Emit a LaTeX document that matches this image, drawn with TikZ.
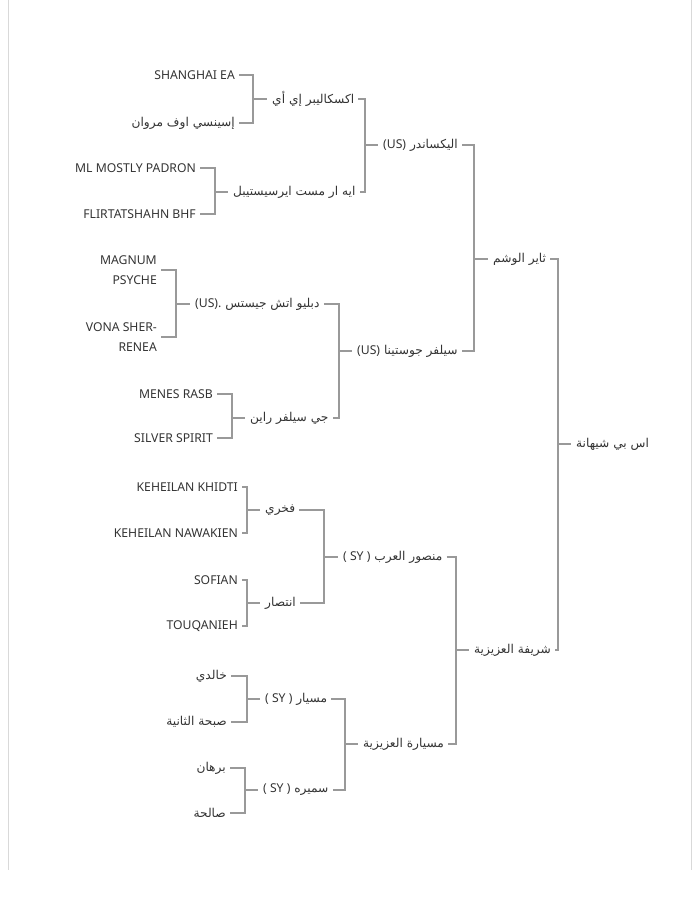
\documentclass[tikz,border=0pt]{standalone}
\usepackage{fontspec}
\setmainfont{Noto Sans}
\newfontfamily\arabicfont[Script=Arabic]{DejaVu Sans}
\TeXXeTstate=1
\newcommand{\artx}[1]{{\arabicfont\beginR #1\endR}}
\newcommand{\lat}[1]{\beginL{\normalfont #1}\endL}
\begin{document}
\begin{tikzpicture}[x=1pt,y=-1pt,
  lbl/.style={inner sep=0pt,text=black!80,font=\fontsize{12.2}{14}\selectfont},
  lf/.style={lbl,anchor=east},
  md/.style={lbl,anchor=west},
  ln/.style={draw=black!40,line width=1.3pt}]
\useasboundingbox (0,0) rectangle (700,908);
\draw[black!15,line width=0.8pt] (8,0) -- (8,870) (691,0) -- (691,870);
% ---------- leaves ----------
\node[lf] (l1) at (235,75) {SHANGHAI EA};
\node[lf] (l2) at (235,123) {\artx{إسينسي اوف مروان}};
\node[lf] (l3) at (196,168) {ML MOSTLY PADRON};
\node[lf] (l4) at (196,214) {FLIRTATSHAHN BHF};
\node[lf,align=right] (l5) at (157,270) {MAGNUM\\[6pt]PSYCHE};
\node[lf,align=right] (l6) at (157,337) {VONA SHER-\\[6pt]RENEA};
\node[lf] (l7) at (213,394) {MENES RASB};
\node[lf] (l8) at (213,438) {SILVER SPIRIT};
\node[lf] (l9) at (238,487) {KEHEILAN KHIDTI};
\node[lf] (l10) at (238,533) {KEHEILAN NAWAKIEN};
\node[lf] (l11) at (238,580) {SOFIAN};
\node[lf] (l12) at (238,626) {TOUQANIEH};
\node[lf] (l13) at (227,676) {\artx{خالدي}};
\node[lf] (l14) at (227,722) {\artx{صبحة الثانية}};
\node[lf] (l15) at (226,768) {\artx{برهان}};
\node[lf] (l16) at (226,813) {\artx{صالحة}};
% ---------- generation 3 ----------
\node[md] (g1) at (272,99) {\artx{اكسكاليبر إي أي}};
\node[md] (g2) at (233,192) {\artx{ايه ار مست ايرسيستيبل}};
\node[md] (g3) at (195,304) {\artx{دبليو اتش جيستس \lat{(US).}}};
\node[md] (g4) at (250,418) {\artx{جي سيلفر راين}};
\node[md] (g5) at (265,510) {\artx{فخري}};
\node[md] (g6) at (265,603) {\artx{انتصار}};
\node[md] (g7) at (265,699) {\artx{مسيار \lat{( SY )}}};
\node[md] (g8) at (263,790) {\artx{سميره \lat{( SY )}}};
% ---------- generation 2 ----------
\node[md] (h1) at (383,145) {\artx{اليكساندر \lat{(US)}}};
\node[md] (h2) at (357,351) {\artx{سيلفر جوستينا \lat{(US)}}};
\node[md] (h3) at (343,557) {\artx{منصور العرب \lat{( SY )}}};
\node[md] (h4) at (363,744) {\artx{مسيارة العزيزية}};
% ---------- generation 1 ----------
\node[md] (k1) at (493,259) {\artx{ثاير الوشم}};
\node[md] (k2) at (474,650) {\artx{شريفة العزيزية}};
% ---------- root ----------
\node[md] (r) at (576,444) {\artx{اس بي شيهانة}};
% ---------- bracket points ----------
\coordinate (b1) at (253,99);  \coordinate (b2) at (215,192);
\coordinate (b3) at (176,304); \coordinate (b4) at (232,418);
\coordinate (b5) at (247,510); \coordinate (b6) at (247,603);
\coordinate (b7) at (247,699); \coordinate (b8) at (245,790);
\coordinate (c1) at (365,145); \coordinate (c2) at (339,351);
\coordinate (c3) at (324,557); \coordinate (c4) at (345,744);
\coordinate (d1) at (474,259); \coordinate (d2) at (456,650);
\coordinate (e1) at (558,444);
% ---------- connectors ----------
\foreach \a/\b/\p/\q in {l1/l2/b1/g1, l3/l4/b2/g2, l5/l6/b3/g3, l7/l8/b4/g4,
  l9/l10/b5/g5, l11/l12/b6/g6, l13/l14/b7/g7, l15/l16/b8/g8,
  g1/g2/c1/h1, g3/g4/c2/h2, g5/g6/c3/h3, g7/g8/c4/h4,
  h1/h2/d1/k1, h3/h4/d2/k2, k1/k2/e1/r}{
  \draw[ln] ([xshift=4pt]\a.east) -| (\p) |- ([xshift=4pt]\b.east);
  \draw[ln] (\p) -- ([xshift=-5pt]\q.west);
}
\end{tikzpicture}
\end{document}
